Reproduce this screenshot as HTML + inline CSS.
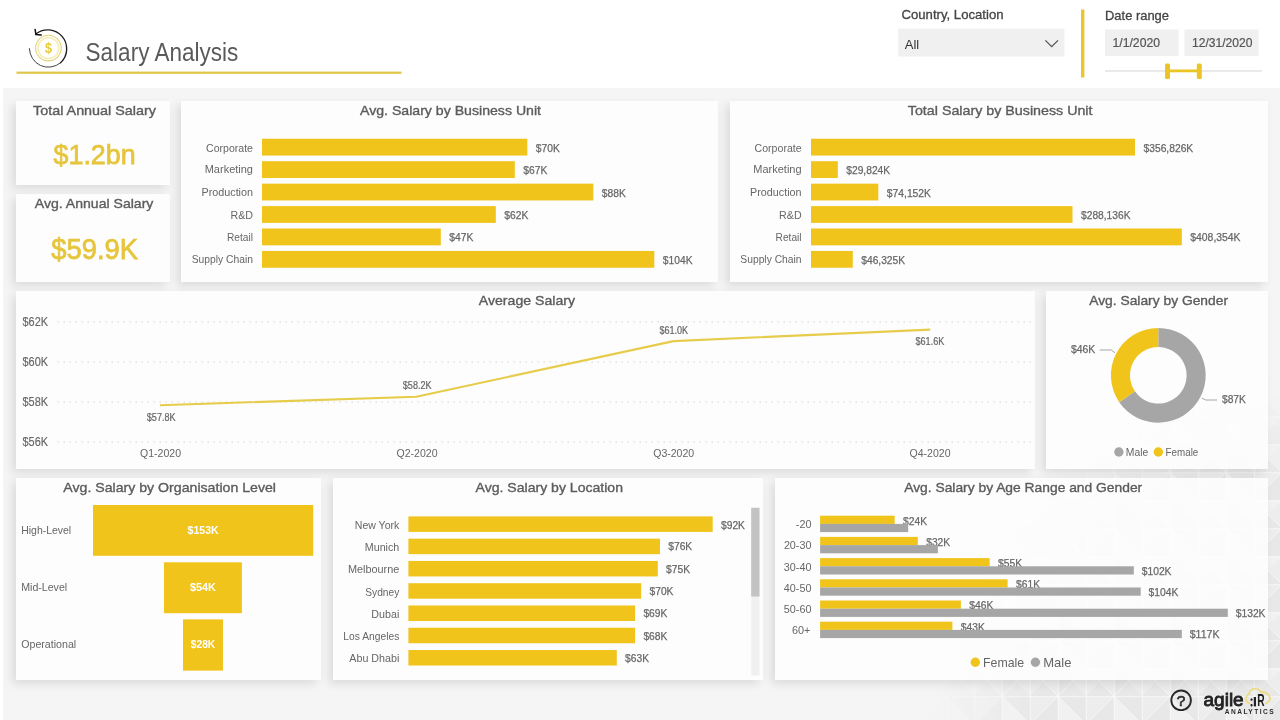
<!DOCTYPE html>
<html lang="en">
<head>
<meta charset="utf-8">
<title>Salary Analysis</title>
<style>
*{box-sizing:border-box}
html,body{margin:0;padding:0;width:1280px;height:720px;overflow:hidden;background:#fff}
body{font-family:"Liberation Sans",sans-serif;color:#666}
#page{position:relative;width:1280px;height:720px;overflow:hidden;background:#fff}
.canvas{position:absolute;left:2.5px;top:88px;width:1277.5px;height:632px;background:#F5F5F5}
.hdr{position:absolute;left:0;top:0;width:1280px;height:88px;background:#fff}
.card{position:absolute;background:rgba(254,254,254,0.86);box-shadow:-4px 4px 9px 0 rgba(0,0,0,0.10)}
.ftr{position:absolute}
.bgp{pointer-events:none}
svg{display:block;position:absolute;left:0;top:0;overflow:visible;fill:#666}
svg text{font-family:"Liberation Sans",sans-serif}
</style>
</head>
<body>
<div id="page">
<div class="canvas"></div>
<svg class="bgp" width="1280" height="720" viewBox="0 0 1280 720" aria-hidden="true">
<defs>
<pattern id="poly" x="49.8" y="24.2" width="56" height="56" patternUnits="userSpaceOnUse">
<rect width="56" height="56" fill="#000" fill-opacity="0.03"/>
<path d="M0 0H28V28Z M56 0V28H28Z M0 28V56H28Z M56 28V56H28Z" fill="#000" fill-opacity="0.018"/>
<path d="M0 0V28H28Z M28 28H56V56Z" fill="#fff" fill-opacity="0.22"/>
<path d="M0 0.5H56M0 28.5H56M0.5 0V56M28.5 0V56M0 0L28 28M56 0L28 28M28 28L0 56M28 28L56 56" fill="none" stroke="#fff" stroke-opacity="0.55" stroke-width="1"/>
</pattern>
<radialGradient id="polyg" gradientUnits="userSpaceOnUse" cx="1290" cy="735" r="360">
<stop offset="0" stop-color="#fff"/><stop offset="0.72" stop-color="#fff"/><stop offset="1" stop-color="#000"/>
</radialGradient>
<mask id="polym" maskUnits="userSpaceOnUse" x="0" y="0" width="1280" height="720"><rect width="1280" height="720" fill="url(#polyg)"/></mask>
</defs>
<rect x="900" y="360" width="380" height="360" fill="url(#poly)" mask="url(#polym)" opacity="1"/>
</svg>
<header class="hdr">
<svg width="1280" height="88" viewBox="0 0 1280 88">
<g class="logo-coin" fill="none">
<path d="M35.8 34.0 A19 19 0 0 1 60.61 62.75" stroke="#1E1E1E" stroke-width="1.35" stroke-linecap="round"/>
<path d="M60.61 62.75 A19 19 0 0 1 29.4 48.6" stroke="#3A3A3A" stroke-width="0.95" stroke-linecap="round"/>
<path d="M35.1 29.4 L35.9 34.6 L41.2 35" stroke="#111" stroke-width="1.5" stroke-linecap="round" stroke-linejoin="round"/>
<circle cx="48.4" cy="48.1" r="12.8" stroke="#E3D67C" stroke-width="1.1"/>
<circle cx="48.4" cy="48.1" r="10.4" stroke="#F5EDB8" stroke-width="1.6"/>
</g>
<text x="48.4" y="53" font-size="14.6" text-anchor="middle" textLength="7" lengthAdjust="spacingAndGlyphs" font-weight="bold" fill="#E7CB3E">$</text>
<text x="85.6" y="61" font-size="25.2" textLength="152.6" lengthAdjust="spacingAndGlyphs" fill="#5A5A5A">Salary Analysis</text>
<rect x="16.5" y="71.6" width="385.0" height="2.2" fill="#DFC548"/>
<text x="901.5" y="19" font-size="13" textLength="102" lengthAdjust="spacingAndGlyphs" fill="#444" stroke="#444" stroke-width="0.3">Country, Location</text>
<rect x="898.2" y="28.6" width="166.2" height="27.9" fill="#F0F0F0"/>
<text x="904.8" y="49" font-size="13" fill="#333">All</text>
<path d="M1045.4 40.4 L1051.7 46.7 L1058 40.4" fill="none" stroke="#555" stroke-width="1.3"/>
<rect x="1081" y="9.5" width="3.4" height="68.0" fill="#E9C62E"/>
<text x="1105" y="20" font-size="13" textLength="64" lengthAdjust="spacingAndGlyphs" fill="#444" stroke="#444" stroke-width="0.3">Date range</text>
<rect x="1105" y="29.5" width="73.5" height="26.5" fill="#F0F0F0"/>
<rect x="1184.5" y="29.5" width="74.0" height="26.5" fill="#F0F0F0"/>
<text x="1112.5" y="47" font-size="12" textLength="47.5" lengthAdjust="spacingAndGlyphs" fill="#555" stroke="#555" stroke-width="0.2">1/1/2020</text>
<text x="1192" y="47" font-size="12" textLength="60.5" lengthAdjust="spacingAndGlyphs" fill="#555" stroke="#555" stroke-width="0.2">12/31/2020</text>
<rect x="1105" y="70.1" width="157" height="1.7" fill="#E6E6E6"/>
<rect x="1167" y="69.5" width="32" height="2.8" fill="#EBC524"/>
<rect x="1165" y="63.5" width="5" height="15.5" rx="1.6" fill="#EBC524"/>
<rect x="1196.8" y="63.5" width="5" height="15.5" rx="1.6" fill="#EBC524"/>
</svg>
</header>
<section class="card kpi" style="left:16px;top:101px;width:154px;height:84px">
<svg width="154" height="84" viewBox="16 101 154 84">
<text x="33" y="115" font-size="13.5" textLength="123" lengthAdjust="spacingAndGlyphs" fill="#5C5C5C" stroke="#5C5C5C" stroke-width="0.36">Total Annual Salary</text>
<text x="53.6" y="164" font-size="28.4" textLength="82" lengthAdjust="spacingAndGlyphs" fill="#E6C53C" stroke="#E6C53C" stroke-width="0.75">$1.2bn</text>
</svg>
</section>
<section class="card kpi" style="left:16px;top:194px;width:154px;height:88px">
<svg width="154" height="88" viewBox="16 194 154 88">
<text x="34.8" y="208" font-size="13.5" textLength="118.6" lengthAdjust="spacingAndGlyphs" fill="#5C5C5C" stroke="#5C5C5C" stroke-width="0.36">Avg. Annual Salary</text>
<text x="51.2" y="259" font-size="29.6" textLength="86.8" lengthAdjust="spacingAndGlyphs" fill="#E6C53C" stroke="#E6C53C" stroke-width="0.75">$59.9K</text>
</svg>
</section>
<section class="card bu-avg" style="left:181px;top:101px;width:537px;height:181px">
<svg width="537" height="181" viewBox="181 101 537 181">
<text x="360" y="115" font-size="13.5" textLength="181" lengthAdjust="spacingAndGlyphs" fill="#5C5C5C" stroke="#5C5C5C" stroke-width="0.36">Avg. Salary by Business Unit</text>
<rect x="262" y="138.75" width="265.3" height="16.8" fill="#F0C41B"/>
<text x="253" y="152" font-size="11.5" text-anchor="end" textLength="47" lengthAdjust="spacingAndGlyphs">Corporate</text>
<text x="535.8" y="152" font-size="11" textLength="24" lengthAdjust="spacingAndGlyphs" stroke="#666666" stroke-width="0.25">$70K</text>
<rect x="262" y="161.2" width="252.8" height="16.8" fill="#F0C41B"/>
<text x="253" y="173" font-size="11.5" text-anchor="end" textLength="48.3" lengthAdjust="spacingAndGlyphs">Marketing</text>
<text x="523.3" y="174" font-size="11" textLength="24" lengthAdjust="spacingAndGlyphs" stroke="#666666" stroke-width="0.25">$67K</text>
<rect x="262" y="183.65" width="331.3" height="16.8" fill="#F0C41B"/>
<text x="253" y="196" font-size="11.5" text-anchor="end" textLength="51.5" lengthAdjust="spacingAndGlyphs">Production</text>
<text x="601.8" y="197" font-size="11" textLength="24" lengthAdjust="spacingAndGlyphs" stroke="#666666" stroke-width="0.25">$88K</text>
<rect x="262" y="206.1" width="233.8" height="16.8" fill="#F0C41B"/>
<text x="253" y="219" font-size="11.5" text-anchor="end" textLength="22.5" lengthAdjust="spacingAndGlyphs">R&amp;D</text>
<text x="504.3" y="219" font-size="11" textLength="24" lengthAdjust="spacingAndGlyphs" stroke="#666666" stroke-width="0.25">$62K</text>
<rect x="262" y="228.5" width="178.8" height="16.8" fill="#F0C41B"/>
<text x="253" y="241" font-size="11.5" text-anchor="end" textLength="26" lengthAdjust="spacingAndGlyphs">Retail</text>
<text x="449.3" y="241" font-size="11" textLength="24" lengthAdjust="spacingAndGlyphs" stroke="#666666" stroke-width="0.25">$47K</text>
<rect x="262" y="250.95" width="392.3" height="16.8" fill="#F0C41B"/>
<text x="253" y="263" font-size="11.5" text-anchor="end" textLength="61.3" lengthAdjust="spacingAndGlyphs">Supply Chain</text>
<text x="662.8" y="264" font-size="11" textLength="29.7" lengthAdjust="spacingAndGlyphs" stroke="#666666" stroke-width="0.25">$104K</text>
</svg>
</section>
<section class="card bu-total" style="left:730px;top:101px;width:538px;height:181px">
<svg width="538" height="181" viewBox="730 101 538 181">
<text x="907.8" y="115" font-size="13.5" textLength="184.7" lengthAdjust="spacingAndGlyphs" fill="#5C5C5C" stroke="#5C5C5C" stroke-width="0.36">Total Salary by Business Unit</text>
<rect x="811" y="138.75" width="324" height="16.8" fill="#F0C41B"/>
<text x="801.6" y="152" font-size="11.5" text-anchor="end" textLength="47" lengthAdjust="spacingAndGlyphs">Corporate</text>
<text x="1143.5" y="152" font-size="11" textLength="49.7" lengthAdjust="spacingAndGlyphs" stroke="#666666" stroke-width="0.25">$356,826K</text>
<rect x="811" y="161.2" width="26.8" height="16.8" fill="#F0C41B"/>
<text x="801.6" y="173" font-size="11.5" text-anchor="end" textLength="48.3" lengthAdjust="spacingAndGlyphs">Marketing</text>
<text x="846.3" y="174" font-size="11" textLength="43.8" lengthAdjust="spacingAndGlyphs" stroke="#666666" stroke-width="0.25">$29,824K</text>
<rect x="811" y="183.65" width="67.3" height="16.8" fill="#F0C41B"/>
<text x="801.6" y="196" font-size="11.5" text-anchor="end" textLength="51.5" lengthAdjust="spacingAndGlyphs">Production</text>
<text x="886.8" y="197" font-size="11" textLength="44.2" lengthAdjust="spacingAndGlyphs" stroke="#666666" stroke-width="0.25">$74,152K</text>
<rect x="811" y="206.1" width="261.5" height="16.8" fill="#F0C41B"/>
<text x="801.6" y="219" font-size="11.5" text-anchor="end" textLength="22.5" lengthAdjust="spacingAndGlyphs">R&amp;D</text>
<text x="1081.0" y="219" font-size="11" textLength="49.5" lengthAdjust="spacingAndGlyphs" stroke="#666666" stroke-width="0.25">$288,136K</text>
<rect x="811" y="228.5" width="370.8" height="16.8" fill="#F0C41B"/>
<text x="801.6" y="241" font-size="11.5" text-anchor="end" textLength="26" lengthAdjust="spacingAndGlyphs">Retail</text>
<text x="1190.3" y="241" font-size="11" textLength="50.2" lengthAdjust="spacingAndGlyphs" stroke="#666666" stroke-width="0.25">$408,354K</text>
<rect x="811" y="250.95" width="41.8" height="16.8" fill="#F0C41B"/>
<text x="801.6" y="263" font-size="11.5" text-anchor="end" textLength="61.3" lengthAdjust="spacingAndGlyphs">Supply Chain</text>
<text x="861.3" y="264" font-size="11" textLength="43.7" lengthAdjust="spacingAndGlyphs" stroke="#666666" stroke-width="0.25">$46,325K</text>
</svg>
</section>
<section class="card trend" style="left:16px;top:291px;width:1019px;height:178px">
<svg width="1019" height="178" viewBox="16 291 1019 178">
<text x="478.8" y="305" font-size="13.5" textLength="96.2" lengthAdjust="spacingAndGlyphs" fill="#5C5C5C" stroke="#5C5C5C" stroke-width="0.36">Average Salary</text>
<line x1="57.5" y1="321.8" x2="1032" y2="321.8" stroke="#D2D2D2" stroke-width="1" stroke-dasharray="1.4 4.6"/>
<text x="22.5" y="326" font-size="12" textLength="25.5" lengthAdjust="spacingAndGlyphs" stroke="#666666" stroke-width="0.15">$62K</text>
<line x1="57.5" y1="362" x2="1032" y2="362" stroke="#D2D2D2" stroke-width="1" stroke-dasharray="1.4 4.6"/>
<text x="22.5" y="366" font-size="12" textLength="25.5" lengthAdjust="spacingAndGlyphs" stroke="#666666" stroke-width="0.15">$60K</text>
<line x1="57.5" y1="402" x2="1032" y2="402" stroke="#D2D2D2" stroke-width="1" stroke-dasharray="1.4 4.6"/>
<text x="22.5" y="406" font-size="12" textLength="25.5" lengthAdjust="spacingAndGlyphs" stroke="#666666" stroke-width="0.15">$58K</text>
<line x1="57.5" y1="442" x2="1032" y2="442" stroke="#D2D2D2" stroke-width="1" stroke-dasharray="1.4 4.6"/>
<text x="22.5" y="446" font-size="12" textLength="25.5" lengthAdjust="spacingAndGlyphs" stroke="#666666" stroke-width="0.15">$56K</text>
<polyline points="160,405.2 416.3,396.8 673.6,341.1 930.2,329.6" fill="none" stroke="#E6CC4A" stroke-width="2.1" stroke-linejoin="round"/>
<text x="146.8" y="421" font-size="10" textLength="28.8" lengthAdjust="spacingAndGlyphs" stroke="#666666" stroke-width="0.2">$57.8K</text>
<text x="402.8" y="389" font-size="10" textLength="28.8" lengthAdjust="spacingAndGlyphs" stroke="#666666" stroke-width="0.2">$58.2K</text>
<text x="659.4" y="334" font-size="10" textLength="28.8" lengthAdjust="spacingAndGlyphs" stroke="#666666" stroke-width="0.2">$61.0K</text>
<text x="915.5" y="345" font-size="10" textLength="28.8" lengthAdjust="spacingAndGlyphs" stroke="#666666" stroke-width="0.2">$61.6K</text>
<text x="140" y="457" font-size="11.5" textLength="41" lengthAdjust="spacingAndGlyphs">Q1-2020</text>
<text x="396.5" y="457" font-size="11.5" textLength="41" lengthAdjust="spacingAndGlyphs">Q2-2020</text>
<text x="653.2" y="457" font-size="11.5" textLength="41" lengthAdjust="spacingAndGlyphs">Q3-2020</text>
<text x="909.5" y="457" font-size="11.5" textLength="41" lengthAdjust="spacingAndGlyphs">Q4-2020</text>
</svg>
</section>
<section class="card gender" style="left:1046px;top:291px;width:222px;height:178px">
<svg width="222" height="178" viewBox="1046 291 222 178">
<text x="1089.2" y="305" font-size="13.5" textLength="138.8" lengthAdjust="spacingAndGlyphs" fill="#5C5C5C" stroke="#5C5C5C" stroke-width="0.36">Avg. Salary by Gender</text>
<path d="M1158.30 327.90 A47.4 47.4 0 1 1 1119.24 402.16 L1134.98 391.33 A28.3 28.3 0 1 0 1158.30 347.00 Z" fill="#A6A6A6"/>
<path d="M1119.24 402.16 A47.4 47.4 0 0 1 1158.30 327.90 L1158.30 347.00 A28.3 28.3 0 0 0 1134.98 391.33 Z" fill="#F0C41B"/>
<path d="M1099.7 350 L1111.4 350 L1115 352.8" fill="none" stroke="#A6A6A6" stroke-width="1"/>
<path d="M1201.7 398 L1205.8 400 L1217 400" fill="none" stroke="#A6A6A6" stroke-width="1"/>
<text x="1071" y="353" font-size="11" textLength="24.3" lengthAdjust="spacingAndGlyphs" stroke="#666666" stroke-width="0.25">$46K</text>
<text x="1222" y="403" font-size="11" textLength="23.8" lengthAdjust="spacingAndGlyphs" stroke="#666666" stroke-width="0.25">$87K</text>
<circle cx="1118.9" cy="452" r="4.7" fill="#A6A6A6"/>
<text x="1125.8" y="456" font-size="11.5" textLength="22.5" lengthAdjust="spacingAndGlyphs">Male</text>
<circle cx="1158.3" cy="452" r="4.7" fill="#F0C41B"/>
<text x="1165.6" y="456" font-size="11.5" textLength="32.7" lengthAdjust="spacingAndGlyphs">Female</text>
</svg>
</section>
<section class="card funnel" style="left:16px;top:478px;width:305px;height:202px">
<svg width="305" height="202" viewBox="16 478 305 202">
<text x="63.3" y="492" font-size="13.5" textLength="212.7" lengthAdjust="spacingAndGlyphs" fill="#5C5C5C" stroke="#5C5C5C" stroke-width="0.36">Avg. Salary by Organisation Level</text>
<rect x="93" y="505" width="220.2" height="50.8" fill="#F0C41B"/>
<text x="21.2" y="534" font-size="11.5" textLength="50" lengthAdjust="spacingAndGlyphs">High-Level</text>
<text x="203.1" y="534" font-size="11" text-anchor="middle" textLength="31" lengthAdjust="spacingAndGlyphs" font-weight="bold" fill="#FFFFFF">$153K</text>
<rect x="164" y="562.3" width="77.9" height="50.9" fill="#F0C41B"/>
<text x="21.2" y="591" font-size="11.5" textLength="46" lengthAdjust="spacingAndGlyphs">Mid-Level</text>
<text x="202.95" y="591" font-size="11" text-anchor="middle" textLength="26" lengthAdjust="spacingAndGlyphs" font-weight="bold" fill="#FFFFFF">$54K</text>
<rect x="183" y="619.4" width="40" height="51.2" fill="#F0C41B"/>
<text x="21.2" y="648" font-size="11.5" textLength="55" lengthAdjust="spacingAndGlyphs">Operational</text>
<text x="203.0" y="648" font-size="11" text-anchor="middle" textLength="24.5" lengthAdjust="spacingAndGlyphs" font-weight="bold" fill="#FFFFFF">$28K</text>
</svg>
</section>
<section class="card location" style="left:333px;top:478px;width:430px;height:202px">
<svg width="430" height="202" viewBox="333 478 430 202">
<text x="475.6" y="492" font-size="13.5" textLength="147.4" lengthAdjust="spacingAndGlyphs" fill="#5C5C5C" stroke="#5C5C5C" stroke-width="0.36">Avg. Salary by Location</text>
<rect x="408.4" y="516.4" width="304.3" height="15.5" fill="#F0C41B"/>
<text x="399.3" y="529" font-size="11.5" text-anchor="end" textLength="44.5" lengthAdjust="spacingAndGlyphs">New York</text>
<text x="721.0" y="529" font-size="11" textLength="23.9" lengthAdjust="spacingAndGlyphs" stroke="#666666" stroke-width="0.25">$92K</text>
<rect x="408.4" y="538.67" width="251.6" height="15.5" fill="#F0C41B"/>
<text x="399.3" y="551" font-size="11.5" text-anchor="end" textLength="34.5" lengthAdjust="spacingAndGlyphs">Munich</text>
<text x="668.3" y="550" font-size="11" textLength="23.9" lengthAdjust="spacingAndGlyphs" stroke="#666666" stroke-width="0.25">$76K</text>
<rect x="408.4" y="560.94" width="249.4" height="15.5" fill="#F0C41B"/>
<text x="399.3" y="573" font-size="11.5" text-anchor="end" textLength="51.4" lengthAdjust="spacingAndGlyphs">Melbourne</text>
<text x="666.1" y="573" font-size="11" textLength="23.9" lengthAdjust="spacingAndGlyphs" stroke="#666666" stroke-width="0.25">$75K</text>
<rect x="408.4" y="583.21" width="232.8" height="15.5" fill="#F0C41B"/>
<text x="399.3" y="596" font-size="11.5" text-anchor="end" textLength="34" lengthAdjust="spacingAndGlyphs">Sydney</text>
<text x="649.5" y="595" font-size="11" textLength="23.9" lengthAdjust="spacingAndGlyphs" stroke="#666666" stroke-width="0.25">$70K</text>
<rect x="408.4" y="605.48" width="226.7" height="15.5" fill="#F0C41B"/>
<text x="399.3" y="618" font-size="11.5" text-anchor="end" textLength="28" lengthAdjust="spacingAndGlyphs">Dubai</text>
<text x="643.4" y="617" font-size="11" textLength="23.9" lengthAdjust="spacingAndGlyphs" stroke="#666666" stroke-width="0.25">$69K</text>
<rect x="408.4" y="627.75" width="226.7" height="15.5" fill="#F0C41B"/>
<text x="399.3" y="640" font-size="11.5" text-anchor="end" textLength="56" lengthAdjust="spacingAndGlyphs">Los Angeles</text>
<text x="643.4" y="640" font-size="11" textLength="23.9" lengthAdjust="spacingAndGlyphs" stroke="#666666" stroke-width="0.25">$68K</text>
<rect x="408.4" y="650.02" width="208.4" height="15.5" fill="#F0C41B"/>
<text x="399.3" y="662" font-size="11.5" text-anchor="end" textLength="50" lengthAdjust="spacingAndGlyphs">Abu Dhabi</text>
<text x="625.1" y="662" font-size="11" textLength="23.9" lengthAdjust="spacingAndGlyphs" stroke="#666666" stroke-width="0.25">$63K</text>
<rect x="751.2" y="507.8" width="8.3" height="167.8" fill="#F0F0F0"/>
<rect x="751.2" y="507.8" width="8.3" height="88.7" fill="#C3C3C3"/>
</svg>
</section>
<section class="card age" style="left:775px;top:478px;width:493px;height:202px">
<svg width="493" height="202" viewBox="775 478 493 202">
<text x="904.2" y="492" font-size="13.5" textLength="238" lengthAdjust="spacingAndGlyphs" fill="#5C5C5C" stroke="#5C5C5C" stroke-width="0.36">Avg. Salary by Age Range and Gender</text>
<rect x="820.1" y="515.7" width="74.6" height="8.2" fill="#F0C41B"/>
<text x="903.1" y="525" font-size="11" textLength="24" lengthAdjust="spacingAndGlyphs" stroke="#666666" stroke-width="0.25">$24K</text>
<rect x="820.1" y="523.9" width="88.1" height="8.2" fill="#A6A6A6"/>
<text x="811.4" y="528" font-size="11.3" text-anchor="end" textLength="15.6" lengthAdjust="spacingAndGlyphs">-20</text>
<rect x="820.1" y="536.9" width="97.7" height="8.2" fill="#F0C41B"/>
<text x="926.2" y="546" font-size="11" textLength="24" lengthAdjust="spacingAndGlyphs" stroke="#666666" stroke-width="0.25">$32K</text>
<rect x="820.1" y="545.1" width="117.8" height="8.2" fill="#A6A6A6"/>
<text x="811.4" y="549" font-size="11.3" text-anchor="end" textLength="27.5" lengthAdjust="spacingAndGlyphs">20-30</text>
<rect x="820.1" y="558.1" width="169.6" height="8.2" fill="#F0C41B"/>
<text x="998.1" y="567" font-size="11" textLength="24" lengthAdjust="spacingAndGlyphs" stroke="#666666" stroke-width="0.25">$55K</text>
<rect x="820.1" y="566.3" width="313.7" height="8.2" fill="#A6A6A6"/>
<text x="1141.7" y="575" font-size="11" textLength="29.8" lengthAdjust="spacingAndGlyphs" stroke="#666666" stroke-width="0.25">$102K</text>
<text x="811.4" y="571" font-size="11.3" text-anchor="end" textLength="27.6" lengthAdjust="spacingAndGlyphs">30-40</text>
<rect x="820.1" y="579.3" width="187.5" height="8.2" fill="#F0C41B"/>
<text x="1016.0" y="588" font-size="11" textLength="24" lengthAdjust="spacingAndGlyphs" stroke="#666666" stroke-width="0.25">$61K</text>
<rect x="820.1" y="587.5" width="320.6" height="8.2" fill="#A6A6A6"/>
<text x="1148.6" y="596" font-size="11" textLength="29.8" lengthAdjust="spacingAndGlyphs" stroke="#666666" stroke-width="0.25">$104K</text>
<text x="811.4" y="592" font-size="11.3" text-anchor="end" textLength="27.6" lengthAdjust="spacingAndGlyphs">40-50</text>
<rect x="820.1" y="600.5" width="140.8" height="8.2" fill="#F0C41B"/>
<text x="969.3" y="609" font-size="11" textLength="24" lengthAdjust="spacingAndGlyphs" stroke="#666666" stroke-width="0.25">$46K</text>
<rect x="820.1" y="608.7" width="407.7" height="8.2" fill="#A6A6A6"/>
<text x="1235.7" y="617" font-size="11" textLength="29.8" lengthAdjust="spacingAndGlyphs" stroke="#666666" stroke-width="0.25">$132K</text>
<text x="811.4" y="613" font-size="11.3" text-anchor="end" textLength="27.6" lengthAdjust="spacingAndGlyphs">50-60</text>
<rect x="820.1" y="621.7" width="132.3" height="8.2" fill="#F0C41B"/>
<text x="960.8" y="631" font-size="11" textLength="24" lengthAdjust="spacingAndGlyphs" stroke="#666666" stroke-width="0.25">$43K</text>
<rect x="820.1" y="629.9" width="361.7" height="8.2" fill="#A6A6A6"/>
<text x="1189.7" y="638" font-size="11" textLength="29.8" lengthAdjust="spacingAndGlyphs" stroke="#666666" stroke-width="0.25">$117K</text>
<text x="810.3" y="634" font-size="11.3" text-anchor="end" textLength="18.4" lengthAdjust="spacingAndGlyphs">60+</text>
<circle cx="975.3" cy="662.3" r="4.7" fill="#F0C41B"/>
<text x="983" y="667" font-size="13.5" textLength="41.2" lengthAdjust="spacingAndGlyphs">Female</text>
<circle cx="1035.4" cy="662.3" r="4.7" fill="#A6A6A6"/>
<text x="1043.2" y="667" font-size="13.5" textLength="28.2" lengthAdjust="spacingAndGlyphs">Male</text>
</svg>
</section>
<footer class="ftr" style="left:1160px;top:684px;width:120px;height:36px">
<svg width="120" height="36" viewBox="1160 684 120 36">
<circle cx="1181.1" cy="700.3" r="9.8" fill="none" stroke="#2A2A2A" stroke-width="1.9"/>
<text x="1181.1" y="706" font-size="15.5" text-anchor="middle" fill="#2A2A2A" stroke="#2A2A2A" stroke-width="0.6">?</text>
<text x="1203.5" y="706" font-size="17.6" textLength="40.2" lengthAdjust="spacingAndGlyphs" fill="#222" stroke="#222" stroke-width="0.8">agile</text>
<text x="1224.7" y="714" font-size="6.6" textLength="48.9" lengthAdjust="spacing" font-weight="bold" fill="#2B2B2B">ANALYTICS</text>
<path d="M1248.8 703.2 C1246.5 702 1245.8 699.5 1246.2 697.6 C1246.6 695.6 1247.8 694.6 1249 694.2 C1249 691.5 1251.5 688.6 1254.8 688.6 C1257.6 688.6 1259.8 690 1260.9 692 C1264 691.8 1267.3 693 1269 695.5 C1270.8 698.3 1270.3 701.6 1266 703.4" fill="none" stroke="#EBDD88" stroke-width="1.9" stroke-linecap="round"/>
<rect x="1250.5" y="698.6" width="2.1" height="2.2" fill="#222" rx="0.8"/><rect x="1250.5" y="704.1" width="2.1" height="2.3" fill="#222" rx="0.8"/>
<rect x="1253.8" y="697" width="2.2" height="9.4" fill="#222"/>
<text x="1257.3" y="706" font-size="15.7" textLength="7.4" lengthAdjust="spacingAndGlyphs" font-weight="bold" fill="#222">R</text>
</svg>
</footer>
</div>
</body>
</html>
